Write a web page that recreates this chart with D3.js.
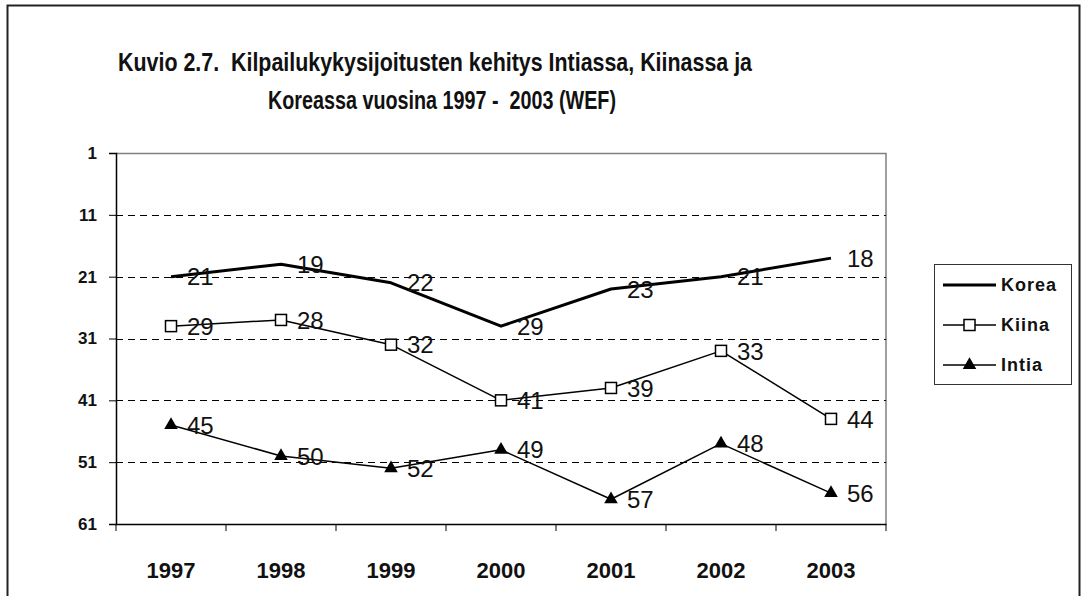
<!DOCTYPE html>
<html>
<head>
<meta charset="utf-8">
<script src="https://cdn.jsdelivr.net/npm/d3@7"></script>
<style>
  body { margin: 0; background: #fff; }
  text { font-family: "Liberation Sans", Arial, sans-serif; }
</style>
</head>
<body>
<svg id="chart" width="1086" height="596"></svg>
<script>
const years = ["1997", "1998", "1999", "2000", "2001", "2002", "2003"];
const korea = [21, 19, 22, 29, 23, 21, 18];
const kiina = [29, 28, 32, 41, 39, 33, 44];
const intia = [45, 50, 52, 49, 57, 48, 56];
const yTicks = [1, 11, 21, 31, 41, 51, 61];
const seriesNames = ["Korea", "Kiina", "Intia"];

(() => {
    let margin = {top: 153, left: 116},
        width = 886 - 116,
        height = 524 - 153,
        svg = d3.select("svg#chart"),
        x = d3.scaleBand().domain(years).range([0, width]),
        y = d3.scaleLinear().domain([1, 61]).range([0, height]);

    // outer frame
    svg.append("rect")
        .attr("x", 7.5).attr("y", 5.5)
        .attr("width", 1072).attr("height", 600)
        .attr("fill", "none").attr("stroke", "#222").attr("stroke-width", 2);

    // title (double spaces kept with nbsp)
    const title = svg.append("g").attr("font-weight", "bold").attr("font-size", 26).attr("fill", "#111");
    title.append("text")
        .attr("x", 118).attr("y", 71)
        .attr("textLength", 634).attr("lengthAdjust", "spacingAndGlyphs")
        .text("Kuvio 2.7.\u00a0 Kilpailukykysijoitusten kehitys Intiassa, Kiinassa ja");
    title.append("text")
        .attr("x", 268).attr("y", 109)
        .attr("textLength", 348).attr("lengthAdjust", "spacingAndGlyphs")
        .text("Koreassa vuosina 1997 -\u00a0 2003 (WEF)");

    let g = svg.append("g")
        .attr("transform", "translate(" + margin.left + "," + margin.top + ")");

    // plot area border (gray)
    g.append("path")
        .attr("d", "M0,0.5H" + width + "V" + height)
        .attr("fill", "none").attr("stroke", "#808080").attr("stroke-width", 1.5);

    // dashed gridlines
    g.selectAll(".grid")
        .data(yTicks.slice(1, -1))
        .enter().append("line")
        .attr("x1", 0).attr("x2", width)
        .attr("y1", d => Math.round(y(d)) + 0.5).attr("y2", d => Math.round(y(d)) + 0.5)
        .attr("stroke", "#000").attr("stroke-dasharray", "7,5");

    // y axis
    let yAxis = g.append("g")
        .call(d3.axisLeft(y).tickValues(yTicks).tickSize(7).tickPadding(12));
    yAxis.select(".domain").attr("stroke", "#000").attr("stroke-width", 1.5);
    yAxis.selectAll("text").attr("font-size", 17).attr("font-weight", "bold").attr("fill", "#111")
        .attr("font-family", "Liberation Sans, Arial, sans-serif");

    // x axis
    let xAxis = g.append("g")
        .attr("transform", "translate(0," + height + ")")
        .call(d3.axisBottom(x).tickSize(0).tickPadding(38));
    xAxis.select(".domain").attr("stroke", "#000").attr("stroke-width", 1.5);
    xAxis.selectAll("text").attr("font-size", 22).attr("font-weight", "bold").attr("fill", "#111")
        .attr("font-family", "Liberation Sans, Arial, sans-serif");
    xAxis.selectAll(".bound")
        .data(d3.range(years.length + 1))
        .enter().append("line")
        .attr("x1", i => i * x.step()).attr("x2", i => i * x.step())
        .attr("y1", 0).attr("y2", 7)
        .attr("stroke", "#000");

    const series = [
        {name: seriesNames[0], values: korea, width: 3, marker: null},
        {name: seriesNames[1], values: kiina, width: 1.5, marker: "square"},
        {name: seriesNames[2], values: intia, width: 1.5, marker: "triangle"}
    ];
    const cx = (i) => x(years[i]) + x.bandwidth() / 2;
    const line = d3.line().x((d, i) => cx(i)).y(d => y(d));

    function drawMarker(sel, type, px, py) {
        if (type === "square") {
            sel.append("rect")
                .attr("x", px - 5.5).attr("y", py - 5.5)
                .attr("width", 11).attr("height", 11)
                .attr("fill", "#fff").attr("stroke", "#000").attr("stroke-width", 1.5);
        } else if (type === "triangle") {
            sel.append("path")
                .attr("d", d3.symbol(d3.symbolTriangle, 80)())
                .attr("transform", "translate(" + px + "," + py + ")")
                .attr("fill", "#000");
        }
    }

    series.forEach(s => {
        g.append("path")
            .datum(s.values)
            .attr("d", line)
            .attr("fill", "none").attr("stroke", "#000")
            .attr("stroke-width", s.width).attr("stroke-linejoin", "round");

        s.values.forEach((v, i) => {
            drawMarker(g, s.marker, cx(i), y(v));
        });

        g.selectAll(".lbl-" + s.name)
            .data(s.values)
            .enter().append("text")
            .attr("x", (d, i) => cx(i) + 16)
            .attr("y", d => y(d))
            .attr("dy", "0.36em")
            .attr("font-size", 24)
            .attr("fill", "#111")
            .text(d => d);
    });

    // legend
    let legend = svg.append("g").attr("transform", "translate(934,264)");
    legend.append("rect")
        .attr("x", 0.5).attr("y", 0.5).attr("width", 137).attr("height", 120)
        .attr("fill", "#fff").attr("stroke", "#333");
    series.forEach((s, i) => {
        let ly = 21 + i * 40;
        legend.append("line")
            .attr("x1", 9).attr("x2", 62).attr("y1", ly).attr("y2", ly)
            .attr("stroke", "#000").attr("stroke-width", s.width);
        drawMarker(legend, s.marker, 35.5, ly);
        legend.append("text")
            .attr("x", 67).attr("y", ly).attr("dy", "0.36em")
            .attr("font-size", 18).attr("font-weight", "bold").attr("fill", "#111")
            .attr("letter-spacing", 1)
            .text(s.name);
    });
})();
</script>
</body>
</html>
